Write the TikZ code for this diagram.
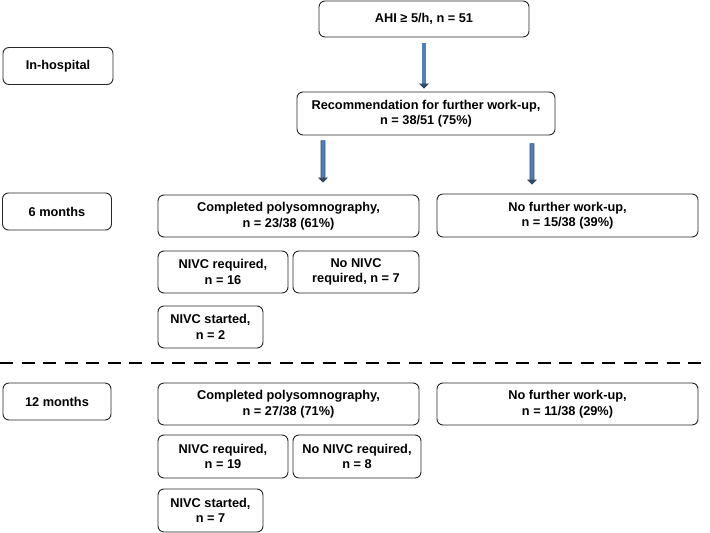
\documentclass[tikz,border=0pt]{standalone}
\usepackage{fontspec}
\setmainfont{Liberation Sans}
\usetikzlibrary{arrows.meta}
\definecolor{arrowblue}{RGB}{79,129,189}
\definecolor{arrowedge}{RGB}{52,72,100}
\tikzset{
    box/.style={draw=black!85, line width=0.9bp, rounded corners=6bp, align=center, inner sep=2bp, font=\fontsize{12.8}{15.5}\selectfont\bfseries},
    blockarrow/.style={draw=arrowedge, line width=0.8bp, double=arrowblue, double distance=3.2bp, -{Triangle[length=5bp,width=10bp]}}
}
\begin{document}
\begin{tikzpicture}[x=1bp, y=-1bp]
        \useasboundingbox (0,0) rectangle (710,533);
        \node [box, minimum width=210bp, minimum height=36bp] (ahi) at (424,19) {AHI ≥ 5/h, n = 51};
        \node [box, minimum width=110bp, minimum height=37bp] (inhosp) at (58,66) {In-hospital};
        \node [box, minimum width=258bp, minimum height=43bp] (rec) at (426,113.5) {Recommendation for further work-up,\\ n = 38/51 (75\%)};
        
        \node [box, minimum width=109bp, minimum height=37bp] (six) at (57,211.5) {6 months};
        \node [box, minimum width=261bp, minimum height=42bp] (pgsix) at (288.5,216) {Completed polysomnography,\\ n = 23/38 (61\%)};
        \node [box, minimum width=261bp, minimum height=43bp] (nofusix) at (567.5,215.5) {No further work-up,\\ n = 15/38 (39\%)};
        \node [box, minimum width=130bp, minimum height=42bp] (reqsix) at (223,272) {NIVC required,\\ n = 16};
        \node [box, minimum width=126bp, minimum height=42bp] (noreqsix) at (356,272) {No NIVC\\ required, n = 7};
        \node [box, minimum width=105bp, minimum height=42bp] (startsix) at (210.5,327) {NIVC started,\\ n = 2};
        
        \node [box, minimum width=108bp, minimum height=37bp] (twelve) at (57,401.5) {12 months};
        \node [box, minimum width=261bp, minimum height=42bp] (pgtwelve) at (288.5,404) {Completed polysomnography,\\ n = 27/38 (71\%)};
        \node [box, minimum width=261bp, minimum height=42bp] (nofutwelve) at (567.5,404) {No further work-up,\\ n = 11/38 (29\%)};
        \node [box, minimum width=130bp, minimum height=43bp] (reqtwelve) at (223,456.5) {NIVC required,\\ n = 19};
        \node [box, minimum width=128bp, minimum height=43bp] (noreqtwelve) at (357,456.5) {No NIVC required,\\ n = 8};
        \node [box, minimum width=105bp, minimum height=43bp] (starttwelve) at (210.5,510.5) {NIVC started,\\ n = 7};
        
        \draw [blockarrow, shorten <=6bp, shorten >=3bp] (ahi.south) -- (ahi.south |- rec.north);
        \draw [blockarrow, shorten <=5bp, shorten >=12bp] ([xshift=-103bp]rec.south) -- ([xshift=34.5bp]pgsix.north);
        \draw [blockarrow, shorten <=8bp, shorten >=9bp] ([xshift=106bp]rec.south) -- ([xshift=-35.5bp]nofusix.north);
        
        % separator between 6 and 12 months
        \draw [line width=2.2bp, dash pattern=on 13bp off 8.5bp] (0,363) -- (710,363);
\end{tikzpicture}
\end{document}
